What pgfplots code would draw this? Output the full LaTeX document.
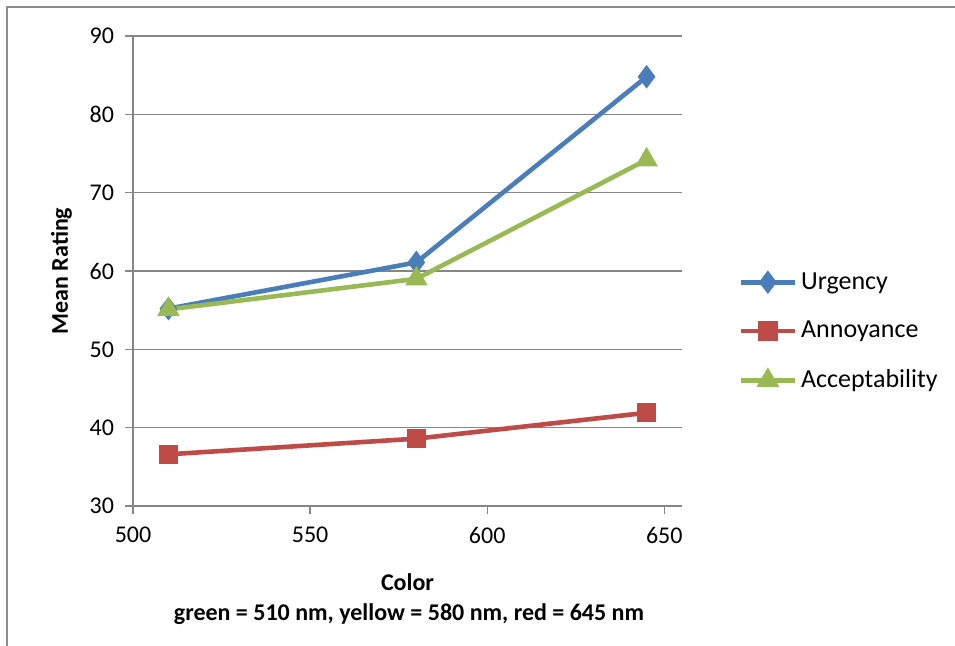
\documentclass[border=0pt]{standalone}
\usepackage{pgfplots}
\pgfplotsset{compat=1.18}
\usepackage{fontspec}
\setmainfont{Carlito}
\definecolor{cblue}{HTML}{4A7EBB}
\definecolor{cred}{HTML}{BE4B48}
\definecolor{cgreen}{HTML}{98B954}
\definecolor{cgrid}{HTML}{868686}
\definecolor{cframe}{HTML}{8C8C8C}
\begin{document}
\begin{tikzpicture}
\useasboundingbox (0,0) rectangle (477.5pt,-322.5pt);
\draw[cframe,line width=1pt] (3.5pt,-330pt) -- (3.5pt,-3.5pt) -- (490pt,-3.5pt);
\begin{axis}[
  at={(66.5pt,-253pt)}, anchor=south west,
  scale only axis, width=274.5pt, height=235pt,
  xmin=500, xmax=655, ymin=30, ymax=90,
  xtick={500,550,600,650}, ytick={30,40,...,90},
  axis x line*=bottom, axis y line*=left,
  axis line style={cgrid, line width=0.6pt, -},
  ymajorgrids, grid style={cgrid, line width=0.6pt},
  tick style={cgrid, line width=0.6pt},
  tick align=outside, major tick length=4pt,
  tick label style={font=\fontsize{12}{14}\selectfont},
  /pgf/number format/assume math mode=true,
  xticklabel style={yshift=-3pt},
  yticklabel style={xshift=-2pt},
  xlabel={\textbf{Color}},
  xlabel style={font=\fontsize{12}{14}\selectfont, yshift=-8pt},
  ylabel={\textbf{Mean Rating}},
  ylabel style={font=\fontsize{12}{14}\selectfont, yshift=2pt},
  legend style={at={(1.095,0.515)}, anchor=north west, draw=none, fill=none,
    font=\fontsize{13}{15}\selectfont, row sep=10.5pt,
    legend cell align=left, inner xsep=2pt},
  legend image code/.code={
    \draw[#1] (0pt,0pt) -- (27pt,0pt);
    \draw[#1, only marks] plot coordinates {(13.5pt,0pt)};
  },
]
\addplot[cblue, line width=2.3pt, mark=diamond*, mark size=5.5pt, mark options={solid, fill=cblue, line width=0.5pt}]
  coordinates {(510,55.2) (580,61.1) (645,84.8)};
\addlegendentry{Urgency}
\addplot[cred, line width=2.3pt, mark=square*, mark size=4.6pt, mark options={solid, fill=cred, line width=0.5pt}]
  coordinates {(510,36.6) (580,38.6) (645,41.9)};
\addlegendentry{Annoyance}
\addplot[cgreen, line width=2.3pt, mark=triangle*, mark size=6pt, mark options={solid, fill=cgreen, line width=0.5pt}]
  coordinates {(510,55.1) (580,59.0) (645,74.2)};
\addlegendentry{Acceptability}
\end{axis}
\node[font=\bfseries\fontsize{12}{14}\selectfont] at (204.5pt,-307pt) {green = 510 nm, yellow = 580 nm, red = 645 nm};
\end{tikzpicture}
\end{document}
